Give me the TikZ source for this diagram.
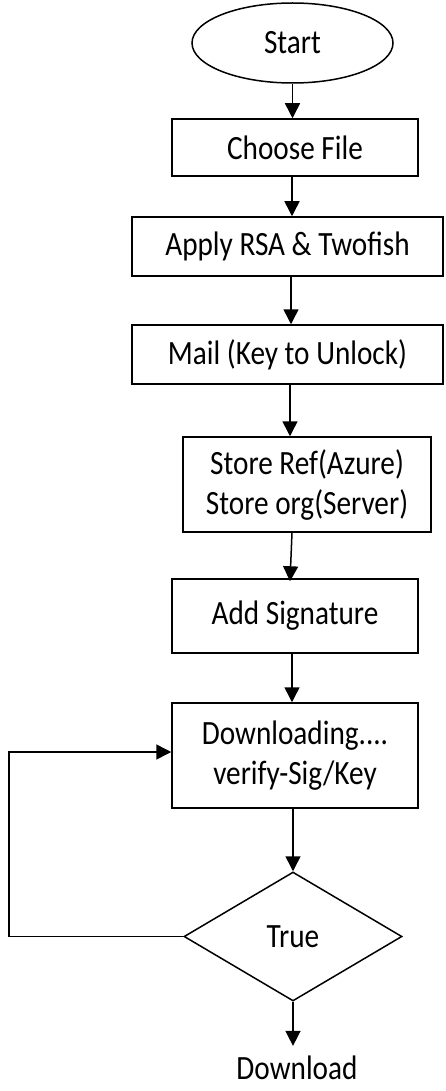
\documentclass[tikz,border=0pt]{standalone}
\usepackage{fontspec}
\setmainfont{Carlito}[FakeStretch=0.86]
\usetikzlibrary{arrows.meta,shapes.geometric}
\begin{document}
\begin{tikzpicture}[x=1pt,y=-1pt,
  txt/.style={font=\fontsize{34}{40}\selectfont,align=center},
  box/.style={draw,line width=1.5pt,inner sep=0pt,txt},
  arr/.style={line width=1.5pt,-{Triangle[length=15pt,width=15pt]}}]
\useasboundingbox[fill=white] (0,0) rectangle (445,1091);
\node[box,ellipse,minimum width=201pt,minimum height=80pt] (start) at (292.5,43) {Start};
\node[box,minimum width=246pt,minimum height=57pt] (choose) at (295,147.5) {Choose File};
\node[box,minimum width=311pt,minimum height=59pt] (apply) at (287.5,246.5) {Apply RSA \& Twofish};
\node[box,minimum width=311pt,minimum height=59pt] (mail) at (287.5,354.5) {Mail (Key to Unlock)};
\node[box,minimum width=248pt,minimum height=95pt] (store) at (307,484.5) {Store Ref(Azure)\\Store org(Server)};
\node[box,minimum width=246pt,minimum height=74pt] (sig) at (295,616) {Add Signature};
\node[box,minimum width=246pt,minimum height=105pt] (dl) at (295,755.5) {Downloading....\\verify-Sig/Key};
\node[box,diamond,minimum width=218pt,minimum height=129pt] (dec) at (293,936.5) {True};
\node[txt,inner sep=0pt] (out) at (297,1068) {Download};
\coordinate (lp) at (9,752);
\draw[arr] (start.south) -- (start.south |- choose.north);
\draw[arr] ([xshift=-3pt]choose.south) -- ([xshift=-3pt]choose.south |- apply.north);
\draw[arr] ([xshift=3.5pt]apply.south) -- ([xshift=3.5pt]apply.south |- mail.north);
\draw[arr] ([xshift=2.5pt]mail.south) -- ([xshift=2.5pt]mail.south |- store.north);
\draw[arr] ([xshift=-15pt]store.south) -- ([xshift=-5pt,yshift=-3pt]sig.north);
\draw[arr] ([xshift=-3pt]sig.south) -- ([xshift=-3pt]sig.south |- dl.north);
\draw[arr] ([xshift=-2pt]dl.south) -- (dec.north);
\draw[arr] (dec.south) -- ([yshift=10pt]dec.south |- out.north);
\draw[arr] (dec.west) -- (dec.west -| lp) -- (lp) -- (lp -| dl.west);
\end{tikzpicture}
\end{document}
